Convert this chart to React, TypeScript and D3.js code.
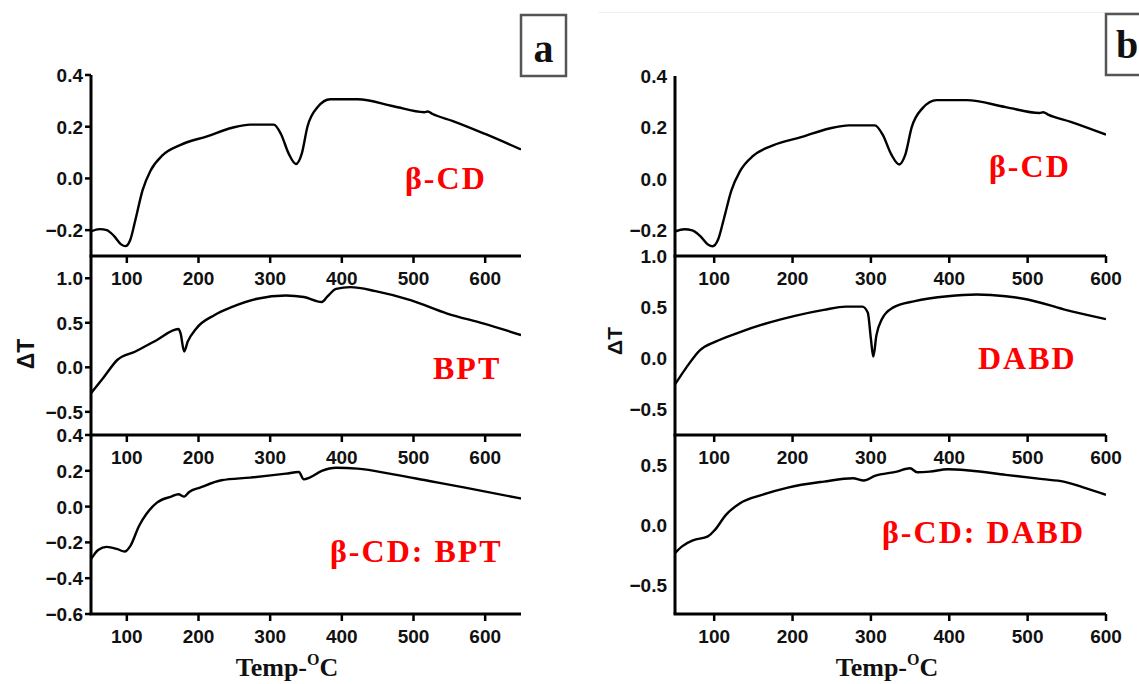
import React from "react";
import * as d3 from "d3";

// Temperature ticks shared by every panel (°C)
const TEMP_TICKS = [100, 200, 300, 400, 500, 600];

// DTA trace of β-cyclodextrin: [temperature °C, ΔT]
const BETA_CD: [number, number][] = [
  [50, -0.205], [62, -0.196], [72, -0.2], [82, -0.222], [92, -0.255], [98, -0.262],
  [105, -0.236], [112, -0.16], [122, -0.045], [133, 0.03], [150, 0.09], [175, 0.13],
  [212, 0.163], [247, 0.196], [272, 0.208], [305, 0.208], [315, 0.172], [326, 0.095],
  [336, 0.056], [344, 0.095], [352, 0.2], [366, 0.275], [384, 0.306], [422, 0.306],
  [472, 0.279], [515, 0.256], [520, 0.259], [526, 0.25], [555, 0.222], [600, 0.172],
  [650, 0.112],
];

// BPT guest
const BPT: [number, number][] = [
  [50, -0.29], [67, -0.12], [87, 0.085], [112, 0.178], [142, 0.307], [172, 0.43],
  [175, 0.38], [180, 0.178], [185, 0.289], [197, 0.437], [222, 0.585], [247, 0.678],
  [282, 0.77], [322, 0.807], [347, 0.789], [372, 0.733], [380, 0.796], [392, 0.881],
  [412, 0.9], [447, 0.856], [497, 0.752], [547, 0.604], [597, 0.493], [650, 0.363],
];

// β-CD : BPT inclusion complex
const BETA_CD_BPT: [number, number][] = [
  [50, -0.294], [60, -0.242], [72, -0.225], [87, -0.238], [97, -0.251], [105, -0.219],
  [117, -0.108], [127, -0.043], [142, 0.022], [162, 0.056], [172, 0.069], [180, 0.056],
  [187, 0.082], [202, 0.106], [232, 0.147], [272, 0.162], [322, 0.184], [340, 0.193],
  [347, 0.152], [355, 0.162], [372, 0.199], [392, 0.217], [422, 0.212], [472, 0.18],
  [522, 0.143], [572, 0.106], [650, 0.045],
];

// DABD guest
const DABD: [number, number][] = [
  [50, -0.256], [64, -0.096], [82, 0.08], [101, 0.16], [133, 0.256], [171, 0.351],
  [203, 0.415], [240, 0.473], [268, 0.505], [289, 0.505], [296, 0.447], [300, 0.19],
  [303, 0.016], [307, 0.224], [314, 0.383], [328, 0.495], [356, 0.559], [398, 0.607],
  [435, 0.623], [472, 0.607], [500, 0.575], [546, 0.479], [600, 0.383],
];

// β-CD : DABD inclusion complex
const BETA_CD_DABD: [number, number][] = [
  [50, -0.236], [59, -0.18], [73, -0.13], [92, -0.097], [101, -0.042], [115, 0.083],
  [133, 0.18], [161, 0.25], [194, 0.311], [240, 0.361], [277, 0.389], [291, 0.37],
  [305, 0.408], [333, 0.444], [350, 0.472], [359, 0.439], [375, 0.444], [398, 0.464],
  [426, 0.453], [472, 0.417], [519, 0.381], [546, 0.361], [574, 0.306], [600, 0.25],
];

const TICKS_CD = [0.4, 0.2, 0.0, -0.2];
const TICKS_GUEST = [1.0, 0.5, 0.0, -0.5];
const TICKS_CD_BPT = [0.4, 0.2, 0.0, -0.2, -0.4, -0.6];
const TICKS_CD_DABD = [0.5, 0.0, -0.5];

const SANS = "'Liberation Sans', Arial, sans-serif";
const SERIF = "'Liberation Serif', 'Times New Roman', serif";

type Panel = {
  id: string;
  data: [number, number][];
  xDomain: [number, number];
  xRange: [number, number];
  yDomain: [number, number];
  yRange: [number, number];
  yTicks: number[];
  yTickMarks: boolean;
  label: string;
  labelX: number;
  labelY: number;
};

const A_X: [number, number] = [91, 521];
const B_X: [number, number] = [675, 1106];

const panels: Panel[] = [
  { id: "a1", data: BETA_CD, xDomain: [50, 650], xRange: A_X, yDomain: [-0.3, 0.4], yRange: [256, 75], yTicks: TICKS_CD, yTickMarks: true, label: "β-CD", labelX: 405, labelY: 189 },
  { id: "a2", data: BPT, xDomain: [50, 650], xRange: A_X, yDomain: [-0.76, 1.25], yRange: [435, 256], yTicks: TICKS_GUEST, yTickMarks: true, label: "BPT", labelX: 433, labelY: 379 },
  { id: "a3", data: BETA_CD_BPT, xDomain: [50, 650], xRange: A_X, yDomain: [-0.6, 0.4], yRange: [614, 435], yTicks: TICKS_CD_BPT, yTickMarks: true, label: "β-CD: BPT", labelX: 330, labelY: 562 },
  { id: "b1", data: BETA_CD, xDomain: [50, 600], xRange: B_X, yDomain: [-0.3, 0.4], yRange: [256, 76], yTicks: TICKS_CD, yTickMarks: false, label: "β-CD", labelX: 989, labelY: 177 },
  { id: "b2", data: DABD, xDomain: [50, 600], xRange: B_X, yDomain: [-0.75, 1.0], yRange: [435, 256], yTicks: TICKS_GUEST, yTickMarks: false, label: "DABD", labelX: 978, labelY: 369 },
  { id: "b3", data: BETA_CD_DABD, xDomain: [50, 600], xRange: B_X, yDomain: [-0.745, 0.75], yRange: [614, 435], yTicks: TICKS_CD_DABD, yTickMarks: false, label: "β-CD: DABD", labelX: 882, labelY: 543 },
];

function PanelView({ p }: { p: Panel }) {
  const x = d3.scaleLinear().domain(p.xDomain).range(p.xRange);
  const y = d3.scaleLinear().domain(p.yDomain).range(p.yRange);
  const line = d3
    .line<[number, number]>()
    .x((d) => x(d[0]))
    .y((d) => y(d[1]))
    .curve(d3.curveMonotoneX);
  const pts = p.data.filter((d) => d[0] >= p.xDomain[0] && d[0] <= p.xDomain[1]);
  const [x0, x1] = p.xRange;
  const [yb, yt] = p.yRange;
  const fmt = d3.format(".1f");
  const clipId = `clip-${p.id}`;
  return (
    <g>
      <defs>
        <clipPath id={clipId}>
          <rect x={x0} y={yt - 2} width={x1 - x0} height={yb - yt + 4} />
        </clipPath>
      </defs>
      <path d={line(pts) ?? ""} fill="none" stroke="#000" strokeWidth={2.4} strokeLinejoin="round" clipPath={`url(#${clipId})`} />
      {/* left axis */}
      <line x1={x0} x2={x0} y1={yt} y2={yb} stroke="#000" strokeWidth={3} />
      {/* bottom axis */}
      <line x1={x0 - 1.5} x2={x1} y1={yb} y2={yb} stroke="#000" strokeWidth={3} />
      {TEMP_TICKS.map((t) => (
        <g key={`xt${t}`}>
          <line x1={x(t)} x2={x(t)} y1={yb} y2={yb + 7} stroke="#000" strokeWidth={2.5} />
          <text x={x(t)} y={yb + 29} textAnchor="middle" fontFamily={SANS} fontWeight="bold" fontSize={19} fill="#111">
            {t}
          </text>
        </g>
      ))}
      {p.yTicks.map((v) => (
        <g key={`yt${v}`}>
          {p.yTickMarks && <line x1={x0 - 6} x2={x0} y1={y(v)} y2={y(v)} stroke="#000" strokeWidth={2.5} />}
          <text x={x0 - 8} y={y(v) + 7} textAnchor="end" fontFamily={SANS} fontWeight="bold" fontSize={19} fill="#111">
            {fmt(v)}
          </text>
        </g>
      ))}
      <text x={p.labelX} y={p.labelY} fontFamily={SERIF} fontWeight="bold" fontSize={32} letterSpacing={2} fill="#ff0000">
        {p.label}
      </text>
    </g>
  );
}

function TempLabel({ cx }: { cx: number }) {
  return (
    <text x={cx} y={676} textAnchor="middle" fontFamily={SERIF} fontWeight="bold" fontSize={26} fill="#111">
      Temp-
      <tspan fontSize={16} dy={-11}>O</tspan>
      <tspan dy={11}>C</tspan>
    </text>
  );
}

export default function App() {
  return (
    <svg
      width={1139}
      height={684}
      viewBox="0 0 1139 684"
      style={{ position: "absolute", left: 0, top: 0, background: "#fff" }}
    >
      <rect x={0} y={0} width={1139} height={684} fill="#fff" />
      <line x1={598} x2={1139} y1={12.5} y2={12.5} stroke="#f1f1f1" strokeWidth={1} />
      {panels.map((p) => (
        <PanelView key={p.id} p={p} />
      ))}
      {/* y-axis titles */}
      <text transform="translate(34,354) rotate(-90)" textAnchor="middle" fontFamily={SANS} fontWeight="bold" fontSize={23} fill="#111">
        ΔT
      </text>
      <text transform="translate(622,341) rotate(-90)" textAnchor="middle" fontFamily={SANS} fontWeight="bold" fontSize={21} fill="#111">
        ΔT
      </text>
      <TempLabel cx={287} />
      <TempLabel cx={887} />
      {/* panel tags */}
      <rect x={521} y={15} width={45} height={61} fill="#fff" stroke="#555" strokeWidth={2.5} />
      <text x={543.5} y={62} textAnchor="middle" fontFamily={SERIF} fontWeight="bold" fontSize={40} fill="#111">
        a
      </text>
      <rect x={1106} y={14} width={60} height={61} fill="#fff" stroke="#555" strokeWidth={2.5} />
      <text x={1116} y={58} fontFamily={SERIF} fontWeight="bold" fontSize={40} fill="#111">
        b
      </text>
    </svg>
  );
}
